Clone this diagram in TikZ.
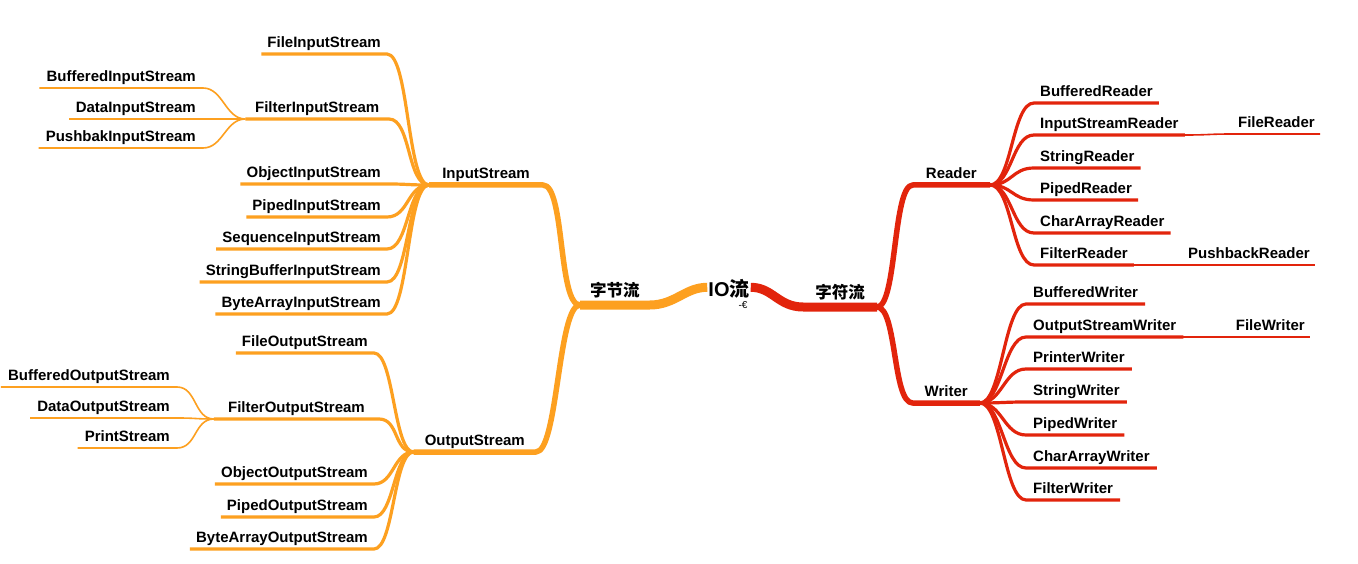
\documentclass[tikz,border=0pt]{standalone}
\usepackage{fontspec}
\setmainfont{Liberation Sans}
\newfontfamily\cjk{Noto Sans CJK SC}
\definecolor{ioorange}{RGB}{253,160,32}
\definecolor{iored}{RGB}{226,36,12}
\begin{document}
\begin{tikzpicture}[x=1pt,y=-1pt,
  lbl/.style={font=\bfseries\fontsize{15}{18}\selectfont, text depth=0pt, inner ysep=6pt, inner xsep=6pt},
  cjklbl/.style={font=\cjk\bfseries\fontsize{16.5}{18}\selectfont, text depth=0pt, inner ysep=8pt, inner xsep=10pt},
  trunk/.style={line width=9pt},
  lvtwo/.style={line width=5.5pt},
  lvthree/.style={line width=3.2pt},
  lvfour/.style={line width=1.6pt},
  every path/.style={line join=round}
]
\fill[white] (0,0) rectangle (1358,564);
\useasboundingbox (0,0) rectangle (1358,564);

% centre
\node[font=\bfseries\fontsize{20}{22}\selectfont, inner xsep=1pt, inner ysep=0pt, anchor=base] (io) at (729,297) {IO{\cjk 流}};
\node[font=\fontsize{10}{11}\selectfont, inner sep=0pt] (note) at (743,305) {-€};
\node[cjklbl, anchor=south west] (zjl) at (580,305) {字节流};
\node[cjklbl, anchor=south east, inner xsep=12pt] (zcl) at (877,307) {字符流};

% InputStream branch
\node[lbl, anchor=south east, inner xsep=13pt] (is) at (543,185) {InputStream};
\node[lbl, anchor=south east] (fis) at (387,54) {FileInputStream};
\node[lbl, anchor=south east, inner xsep=9.5pt] (fil) at (389,119) {FilterInputStream};
\node[lbl, anchor=south east, inner xsep=7pt] (bis) at (203,88) {BufferedInputStream};
\node[lbl, anchor=south east, inner xsep=7pt] (dis) at (203,119) {DataInputStream};
\node[lbl, anchor=south east, inner xsep=7pt] (pis) at (203,148) {PushbakInputStream};
\node[lbl, anchor=south east] (ois) at (387,184) {ObjectInputStream};
\node[lbl, anchor=south east] (pipis) at (387,217) {PipedInputStream};
\node[lbl, anchor=south east] (sis) at (387,249) {SequenceInputStream};
\node[lbl, anchor=south east] (sbis) at (387,282) {StringBufferInputStream};
\node[lbl, anchor=south east] (bais) at (387,314) {ByteArrayInputStream};

% OutputStream branch
\node[lbl, anchor=south east, inner xsep=11pt] (os) at (536,452) {OutputStream};
\node[lbl, anchor=south east] (fos) at (374,353) {FileOutputStream};
\node[lbl, anchor=south east, inner xsep=14pt] (filo) at (379,419) {FilterOutputStream};
\node[lbl, anchor=south east, inner xsep=7pt] (bos) at (177,387) {BufferedOutputStream};
\node[lbl, anchor=south east, inner xsep=7pt] (dos) at (177,418) {DataOutputStream};
\node[lbl, anchor=south east, inner xsep=7pt] (ps) at (177,448) {PrintStream};
\node[lbl, anchor=south east] (oos) at (374,484) {ObjectOutputStream};
\node[lbl, anchor=south east] (pos) at (374,517) {PipedOutputStream};
\node[lbl, anchor=south east] (baos) at (374,549) {ByteArrayOutputStream};

% Reader branch
\node[lbl, anchor=south east, inner xsep=13pt] (rdr) at (990,185) {Reader};
\node[lbl, anchor=south west] (br) at (1034,103) {BufferedReader};
\node[lbl, anchor=south west] (isr) at (1034,135) {InputStreamReader};
\node[lbl, anchor=south east, inner xsep=5pt] (flr) at (1320,134) {FileReader};
\node[lbl, anchor=south west] (sr) at (1034,168) {StringReader};
\node[lbl, anchor=south west] (pr) at (1034,200) {PipedReader};
\node[lbl, anchor=south west] (car) at (1034,233) {CharArrayReader};
\node[lbl, anchor=south west] (frd) at (1034,265) {FilterReader};
\node[lbl, anchor=south east, inner xsep=5pt] (pbr) at (1315,265) {PushbackReader};

% Writer branch
\node[lbl, anchor=south east, inner xsep=12pt] (wr) at (980,403) {Writer};
\node[lbl, anchor=south west, inner xsep=7pt] (bw) at (1026,304) {BufferedWriter};
\node[lbl, anchor=south west, inner xsep=7pt] (osw) at (1026,337) {OutputStreamWriter};
\node[lbl, anchor=south east, inner xsep=5pt] (flw) at (1310,337) {FileWriter};
\node[lbl, anchor=south west, inner xsep=7pt] (pw) at (1026,369) {PrinterWriter};
\node[lbl, anchor=south west, inner xsep=7pt] (sw) at (1026,402) {StringWriter};
\node[lbl, anchor=south west, inner xsep=7pt] (pdw) at (1026,435) {PipedWriter};
\node[lbl, anchor=south west, inner xsep=7pt] (caw) at (1026,468) {CharArrayWriter};
\node[lbl, anchor=south west, inner xsep=7pt] (fw) at (1026,500) {FilterWriter};

% ---------- orange connectors ----------
\begin{scope}[draw=ioorange]
\draw[trunk] ([yshift=2pt]io.west) .. controls +(-22,0) and +(25,0) .. (zjl.south east) -- (zjl.south west);
\draw[lvtwo] (zjl.south west) .. controls +(-22,0) and +(22,0) .. (is.south east) -- (is.south west);
\draw[lvtwo] (zjl.south west) .. controls +(-22,0) and +(22,0) .. (os.south east) -- (os.south west);
\foreach \c in {fis,fil,ois,pipis,sis,sbis,bais}
  \draw[lvthree] (is.south west) .. controls +(-22,0) and +(22,0) .. (\c.south east) -- (\c.south west);
\foreach \c in {bis,dis,pis}
  \draw[lvfour] (fil.south west) .. controls +(-20,0) and +(20,0) .. (\c.south east) -- (\c.south west);
\foreach \c in {fos,filo,oos,pos,baos}
  \draw[lvthree] (os.south west) .. controls +(-20,0) and +(20,0) .. (\c.south east) -- (\c.south west);
\foreach \c in {bos,dos,ps}
  \draw[lvfour] (filo.south west) .. controls +(-20,0) and +(20,0) .. (\c.south east) -- (\c.south west);
\end{scope}

% ---------- red connectors ----------
\begin{scope}[draw=iored]
\draw[trunk] ([yshift=2pt]io.east) .. controls +(22,0) and +(-25,0) .. (zcl.south west) -- (zcl.south east);
\draw[lvtwo] (zcl.south east) .. controls +(20,0) and +(-20,0) .. (rdr.south west) -- (rdr.south east);
\draw[lvtwo] (zcl.south east) .. controls +(20,0) and +(-20,0) .. (wr.south west) -- (wr.south east);
\foreach \c in {br,isr,sr,pr,car,frd}
  \draw[lvthree] (rdr.south east) .. controls +(22,0) and +(-22,0) .. (\c.south west) -- (\c.south east);
\foreach \c in {bw,osw,pw,sw,pdw,caw,fw}
  \draw[lvthree] (wr.south east) .. controls +(22,0) and +(-22,0) .. (\c.south west) -- (\c.south east);
\draw[lvfour] (isr.south east) .. controls +(25,0) and +(-25,0) .. (flr.south west) -- (flr.south east);
\draw[lvfour] (frd.south east) .. controls +(25,0) and +(-25,0) .. (pbr.south west) -- (pbr.south east);
\draw[lvfour] (osw.south east) .. controls +(25,0) and +(-25,0) .. (flw.south west) -- (flw.south east);
\end{scope}
\end{tikzpicture}
\end{document}
